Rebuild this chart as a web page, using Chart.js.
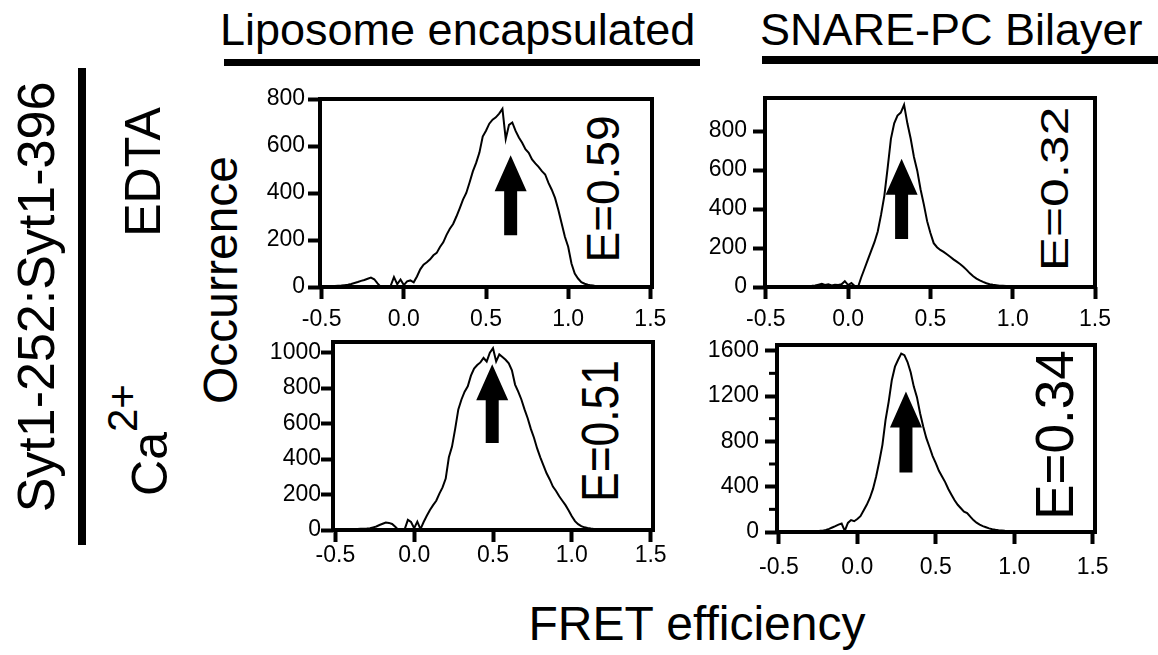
<!DOCTYPE html>
<html>
<head>
<meta charset="utf-8">
<title>FRET efficiency histograms</title>
<script src="https://cdn.jsdelivr.net/npm/chart.js@4.4.1/dist/chart.umd.min.js"></script>
<style>
  body {
    margin: 0;
    width: 1158px;
    height: 655px;
    overflow: hidden;
    position: relative;
    background: #fff;
    color: #000;
    font-family: "Liberation Sans", Arial, sans-serif;
  }
  .lbl { position: absolute; white-space: nowrap; line-height: 1; }
  .rot { transform: translate(-50%, -50%) rotate(-90deg); }
  .bar { position: absolute; background: #000; }
  canvas { position: absolute; }
</style>
</head>
<body>

<!-- column headers -->
<div class="lbl" style="left:220px; top:7px; font-size:45px;">Liposome encapsulated</div>
<div class="bar" style="left:224px; top:59px; width:476px; height:7px;"></div>
<div class="lbl" style="left:760px; top:7px; font-size:45px;">SNARE-PC Bilayer</div>
<div class="bar" style="left:762px; top:56px; width:396px; height:8px;"></div>

<!-- row labels -->
<div class="lbl rot" style="left:36px; top:297px; font-size:52px;">Syt1-252:Syt1-396</div>
<div class="bar" style="left:78px; top:68px; width:8px; height:477px;"></div>
<div class="lbl rot" style="left:143px; top:172px; font-size:50px;">EDTA</div>
<div class="lbl rot" style="left:150px; top:440px; font-size:50px;">Ca<span style="font-size:42px; position:relative; top:-30px;">2+</span></div>
<div class="lbl rot" style="left:221px; top:280px; font-size:48px;">Occurrence</div>
<div class="lbl" style="left:697px; top:600px; font-size:48px; transform:translateX(-50%);">FRET efficiency</div>

<!-- mean efficiency labels -->
<div class="lbl" style="left:603px; top:189px; font-size:46px; transform:translate(-50%,-50%) rotate(-90deg);">E=0.59</div>
<div class="lbl" style="left:1054px; top:189px; font-size:39px; transform:translate(-50%,-50%) rotate(-90deg) scaleX(1.32);">E=0.32</div>
<div class="lbl" style="left:600px; top:431px; font-size:51px; transform:translate(-50%,-50%) rotate(-90deg) scaleX(0.87);">E=0.51</div>
<div class="lbl" style="left:1054px; top:435px; font-size:53px; transform:translate(-50%,-50%) rotate(-90deg);">E=0.34</div>

<script>
// FRET efficiency bins (x)
const fretBins = [
  -0.50, -0.48, -0.46, -0.44, -0.42, -0.40, -0.38, -0.36, -0.34, -0.32,
  -0.30, -0.28, -0.26, -0.24, -0.22, -0.20, -0.18, -0.16, -0.14, -0.12,
  -0.10, -0.08, -0.06, -0.04, -0.02, 0.00, 0.02, 0.04, 0.06, 0.08,
  0.10, 0.12, 0.14, 0.16, 0.18, 0.20, 0.22, 0.24, 0.26, 0.28,
  0.30, 0.32, 0.34, 0.36, 0.38, 0.40, 0.42, 0.44, 0.46, 0.48,
  0.50, 0.52, 0.54, 0.56, 0.58, 0.60, 0.62, 0.64, 0.66, 0.68,
  0.70, 0.72, 0.74, 0.76, 0.78, 0.80, 0.82, 0.84, 0.86, 0.88,
  0.90, 0.92, 0.94, 0.96, 0.98, 1.00, 1.02, 1.04, 1.06, 1.08,
  1.10, 1.12, 1.14, 1.16, 1.18, 1.20, 1.22, 1.24, 1.26, 1.28,
  1.30, 1.32, 1.34, 1.36, 1.38, 1.40, 1.42, 1.44, 1.46, 1.48,
  1.50
];

// Occurrence per bin
const liposomeEdta = [
  3, 3, 3, 4, 4, 5, 6, 8, 10, 13,
  17, 21, 26, 30, 35, 40, 33, 15, 0, 0,
  0, 5, 42, 12, 32, 8, 24, 28, 20, 45,
  75, 95, 105, 118, 135, 145, 170, 190, 222, 248,
  268, 300, 335, 372, 400, 445, 492, 528, 572, 640,
  665, 695, 712, 722, 738, 758, 630, 690, 700, 664,
  636, 614, 586, 571, 543, 526, 511, 493, 479, 443,
  414, 379, 329, 271, 214, 171, 100, 57, 36, 21,
  14, 10, 7, 5, 4, 3, 2, 2, 2, 2,
  1, 1, 1, 1, 1, 1, 1, 1, 1, 1, 1
];
const bilayerEdta = [
  1, 1, 1, 1, 1, 1, 2, 2, 2, 2,
  3, 3, 4, 5, 6, 8, 12, 16, 10, 14,
  8, 12, 10, 14, 30, 10, 20, 5, 0, 50,
  95, 140, 185, 230, 285, 370, 468, 610, 760, 840,
  880, 895, 935, 840, 762, 667, 597, 502, 424, 338,
  277, 225, 204, 190, 180, 168, 155, 142, 130, 118,
  104, 88, 70, 55, 43, 34, 26, 19, 14, 11,
  9, 7, 6, 5, 4, 3, 3, 3, 3, 2,
  2, 2, 2, 2, 2, 2, 1, 1, 1, 1,
  1, 1, 1, 1, 1, 1, 1, 1, 1, 1, 1
];
const liposomeCa = [
  5, 5, 5, 5, 5, 6, 6, 6, 7, 7,
  8, 10, 15, 20, 28, 35, 42, 40, 34, 18,
  0, 0, 5, 57, 45, 10, 47, 5, 45, 80,
  113, 140, 165, 205, 240, 290, 410, 470, 570, 680,
  736, 780, 810, 870, 910, 930, 945, 970, 950, 1000,
  1025, 950, 990, 975, 960, 940, 900, 820, 780, 736,
  680, 630, 570, 520, 460, 410, 365, 320, 285, 245,
  220, 190, 165, 140, 110, 78, 50, 33, 22, 15,
  11, 8, 6, 5, 4, 3, 3, 2, 2, 2,
  2, 2, 1, 1, 1, 1, 1, 1, 1, 1, 1
];
const bilayerCa = [
  4, 4, 4, 4, 5, 5, 5, 5, 6, 6,
  7, 8, 9, 10, 12, 18, 28, 40, 52, 65,
  75, 10, 80, 105, 95, 115, 140, 190, 240, 300,
  380, 490, 622, 769, 989, 1151, 1342, 1459, 1520, 1575,
  1560, 1500, 1410, 1283, 1190, 1048, 930, 828, 750, 670,
  608, 540, 490, 440, 380, 329, 280, 240, 210, 180,
  167, 135, 105, 82, 65, 52, 42, 32, 25, 20,
  16, 13, 10, 8, 7, 6, 5, 5, 4, 4,
  4, 3, 3, 3, 3, 2, 2, 2, 2, 2,
  2, 2, 1, 1, 1, 1, 1, 1, 1, 1, 1
];

// Tick values
const effTicks = [-0.5, 0.0, 0.5, 1.0, 1.5];
const occTicksEdta = [0, 200, 400, 600, 800];
const occTicksLipoCa = [0, 200, 400, 600, 800, 1000];
const occTicksBilayerCa = [0, 400, 800, 1200, 1600];
const occMinorBilayerCa = [200, 600, 1000, 1400];

// Arrows: x position, tip and tail (occurrence units)
const arrowAt = [0.65, 0.325, 0.495, 0.31];
const arrowTip = [561, 658, 934, 1239];
const arrowTail = [220, 246, 491, 526];

const AXIS_W = 90;
const AXIS_H = 50;
const PAD_T = 20;
const PAD_R = 34;
const tickFont = { family: "'Liberation Sans', Arial, sans-serif", size: 23 };

// Frame round the plot area (+ minor ticks)
const framePlugin = {
    id: "frame",
    afterDraw(chart, args, opts) {
        const { ctx, chartArea: a, scales } = chart;
        ctx.save();
        ctx.strokeStyle = "#000";
        ctx.lineWidth = 4;
        ctx.strokeRect(a.left, a.top, a.right - a.left, a.bottom - a.top);
        ctx.lineWidth = 3;
        (opts.minor || []).forEach((v) => {
            const py = scales.y.getPixelForValue(v);
            ctx.beginPath();
            ctx.moveTo(a.left - 8, py);
            ctx.lineTo(a.left, py);
            ctx.stroke();
        });
        ctx.restore();
    },
};

// Black arrow pointing at the mean
const arrowPlugin = {
    id: "arrow",
    afterDatasetsDraw(chart, args, opts) {
        const { ctx, scales } = chart;
        const px = scales.x.getPixelForValue(opts.at);
        const tip = scales.y.getPixelForValue(opts.tip);
        const tail = scales.y.getPixelForValue(opts.tail);
        const head = 36, hw = 16, sw = 6.5;
        ctx.save();
        ctx.fillStyle = "#000";
        ctx.beginPath();
        ctx.moveTo(px, tip);
        ctx.lineTo(px + hw, tip + head);
        ctx.lineTo(px + sw, tip + head);
        ctx.lineTo(px + sw, tail);
        ctx.lineTo(px - sw, tail);
        ctx.lineTo(px - sw, tip + head);
        ctx.lineTo(px - hw, tip + head);
        ctx.closePath();
        ctx.fill();
        ctx.restore();
    },
};

const panels = [
    { counts: liposomeEdta, yTicks: occTicksEdta, yMax: 800, minor: [], arrow: 0,
      left: 320, top: 99, right: 652, bottom: 287, xMin: -0.51, xMax: 1.51, xPad: 7, yPad: 3 },
    { counts: bilayerEdta, yTicks: occTicksEdta, yMax: 970, minor: [], arrow: 1,
      left: 765, top: 98, right: 1095, bottom: 287, xMin: -0.505, xMax: 1.5, xPad: 7, yPad: 6 },
    { counts: liposomeCa, yTicks: occTicksLipoCa, yMax: 1060, minor: [], arrow: 2,
      left: 333, top: 342, right: 653, bottom: 530, xMin: -0.515, xMax: 1.515, xPad: 0, yPad: 0 },
    { counts: bilayerCa, yTicks: occTicksBilayerCa, yMax: 1650, minor: occMinorBilayerCa, arrow: 3,
      left: 777, top: 345, right: 1095, bottom: 532, xMin: -0.512, xMax: 1.515, xPad: 10, yPad: 6 },
];

function drawPanel(p) {
    const canvas = document.createElement("canvas");
    const w = p.right - p.left + AXIS_W + PAD_R;
    const h = p.bottom - p.top + PAD_T + AXIS_H;
    canvas.width = w;
    canvas.height = h;
    canvas.style.width = w + "px";
    canvas.style.height = h + "px";
    canvas.style.left = (p.left - AXIS_W) + "px";
    canvas.style.top = (p.top - PAD_T) + "px";
    document.body.appendChild(canvas);

    return new Chart(canvas.getContext("2d"), {
        type: "line",
        data: {
            datasets: [
                {
                    data: fretBins.map((x, i) => ({ x: x, y: p.counts[i] })),
                    borderColor: "#000",
                    borderWidth: 2,
                    pointRadius: 0,
                    tension: 0,
                    fill: false,
                },
            ],
        },
        options: {
            responsive: false,
            animation: false,
            devicePixelRatio: 1,
            layout: { padding: { left: 0, top: PAD_T, right: PAD_R, bottom: 0 } },
            plugins: {
                legend: { display: false },
                tooltip: { enabled: false },
                frame: { minor: p.minor },
                arrow: { at: arrowAt[p.arrow], tip: arrowTip[p.arrow], tail: arrowTail[p.arrow] },
            },
            scales: {
                x: {
                    type: "linear",
                    min: p.xMin,
                    max: p.xMax,
                    afterFit: (s) => { s.height = AXIS_H; },
                    afterBuildTicks: (s) => { s.ticks = effTicks.map((v) => ({ value: v })); },
                    ticks: {
                        callback: (v) => Number(v).toFixed(1),
                        font: tickFont,
                        color: "#000",
                        padding: p.xPad,
                        autoSkip: false,
                        maxRotation: 0,
                    },
                    grid: { drawOnChartArea: false, tickLength: 12, tickWidth: 4, tickColor: "#000" },
                    border: { display: false },
                },
                y: {
                    type: "linear",
                    min: 0,
                    max: p.yMax,
                    afterFit: (s) => { s.width = AXIS_W; },
                    afterBuildTicks: (s) => { s.ticks = p.yTicks.map((v) => ({ value: v })); },
                    ticks: {
                        callback: (v) => String(v),
                        font: tickFont,
                        color: "#000",
                        padding: p.yPad,
                        autoSkip: false,
                    },
                    grid: { drawOnChartArea: false, tickLength: 12, tickWidth: 4, tickColor: "#000" },
                    border: { display: false },
                },
            },
        },
        plugins: [framePlugin, arrowPlugin],
    });
}

panels.forEach(drawPanel);
</script>
</body>
</html>
